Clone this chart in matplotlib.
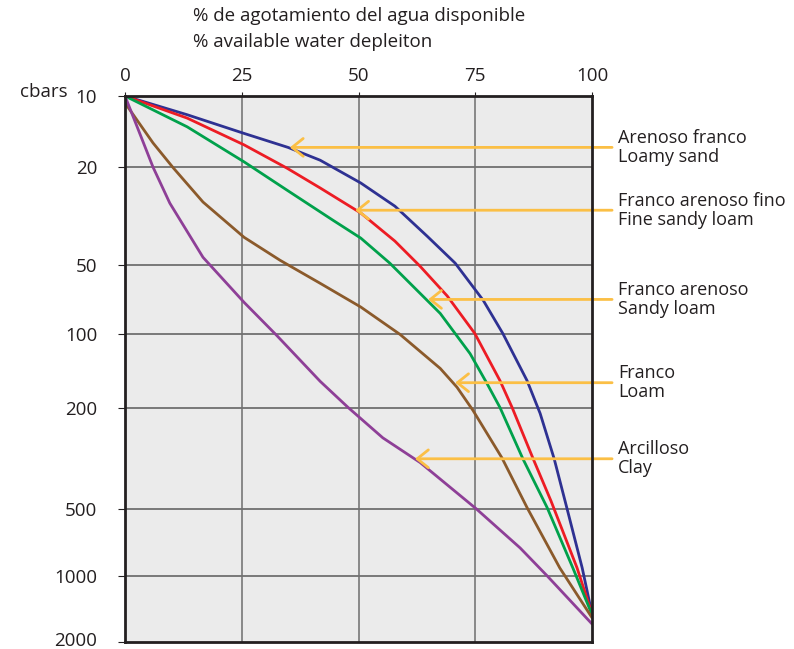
import matplotlib
matplotlib.use('Agg')
import matplotlib.pyplot as plt
import matplotlib.transforms as mtransforms
import numpy as np

plt.rcParams['font.family'] = ['Open Sans', 'DejaVu Sans']

# axis values
y_ticks = [10, 20, 50, 100, 200, 500, 1000, 2000]
x_ticks = [0, 25, 50, 75, 100]

# curves: % depletion vs cbars
loamy_sand_x = [0, 13.3, 25.5, 34.9, 41.8, 50.5, 57.8, 64.7, 70.7, 76.7, 80.9, 86.1, 88.9, 91.9, 94.6, 97.9, 100]
loamy_sand_y = [10, 12.0, 14.4, 16.5, 18.7, 23.2, 28.8, 38.1, 49, 71, 99, 155, 211, 318, 495, 921, 1490]

fine_sandy_loam_x = [0, 13.3, 25.5, 34.7, 41.8, 50.5, 57.8, 63.2, 69, 74.9, 80.3, 82.9, 87.4, 91.2, 96.8, 100]
fine_sandy_loam_y = [10, 12.4, 16.1, 20.2, 24.3, 30.7, 39.9, 50.5, 68, 99, 155, 200, 318, 465, 921, 1490]

sandy_loam_x = [0, 13.3, 25.5, 34.7, 44.5, 50.5, 56.7, 67.5, 73.9, 77.5, 80.3, 85.2, 90.4, 95.9, 100]
sandy_loam_y = [10, 13.5, 19.0, 24.8, 32.8, 38.8, 49, 81, 120, 159, 200, 318, 495, 921, 1500]

loam_x = [0, 6, 10.3, 16.7, 25.5, 33.2, 41.8, 50.5, 58.9, 67.5, 71.1, 74.5, 80.7, 86.1, 93.1, 100]
loam_y = [10.7, 15.8, 20.1, 27.7, 38.5, 47.7, 59.9, 76, 100, 138, 165, 205, 315, 495, 921, 1550]

clay_x = [0, 2.6, 6, 9.6, 16.7, 25.5, 32.5, 41.8, 47.8, 55.2, 63.2, 75.2, 84.6, 90.4, 100]
clay_y = [10, 13.5, 20, 28, 46.4, 72.5, 101, 156, 200, 263, 329, 500, 749, 1000, 1655]

labels_es = ['Arenoso franco', 'Franco arenoso fino', 'Franco arenoso', 'Franco', 'Arcilloso']
labels_en = ['Loamy sand', 'Fine sandy loam', 'Sandy loam', 'Loam', 'Clay']
arrow_x = [35.3, 49.3, 64.9, 70.7, 62.1]
arrow_y = [16.5, 29.9, 70.4, 158, 318]

curves = [
    (loamy_sand_x, loamy_sand_y, '#2e3192'),
    (fine_sandy_loam_x, fine_sandy_loam_y, '#ed1c24'),
    (sandy_loam_x, sandy_loam_y, '#00a14b'),
    (loam_x, loam_y, '#8b5a2b'),
    (clay_x, clay_y, '#8e3f97'),
]

# the cbar axis of the original is roughly logarithmic but not evenly spaced
log_t = np.log10(y_ticks)
offs = np.array([0, 71, 169, 238, 311, 412, 479, 545], dtype=float)
log_ext = np.concatenate([[0.0], log_t, [4.0]])
offs_ext = np.concatenate([[-239.0], offs, [545 + 0.699 * 220]])


def fwd(v):
    v = np.clip(np.asarray(v, dtype=float), 1.0, 1e4)
    return np.interp(np.log10(v), log_ext, offs_ext)


def inv(p):
    return 10 ** np.interp(np.asarray(p, dtype=float), offs_ext, log_ext)


fig = plt.figure(figsize=(7.94, 6.49), dpi=100)
ax = fig.add_axes([125 / 794, 1 - 642 / 649, 467 / 794, 546 / 649])
ax.set_facecolor('#ebebeb')
ax.set_yscale('function', functions=(fwd, inv))
ax.set_xlim(0, 100)
ax.set_ylim(2000, 10)

for v in x_ticks[1:-1]:
    ax.axvline(v, color='#808080', lw=1.3, zorder=1)
for v in y_ticks[1:-1]:
    ax.axhline(v, color='#707070', lw=1.3, zorder=1)

for xs, ys, c in curves:
    ax.plot(xs, ys, color=c, lw=2, zorder=3, solid_capstyle='round',
            solid_joinstyle='round')

orange = '#fbbf45'
for xa, ya, es, en in zip(arrow_x, arrow_y, labels_es, labels_en):
    ax.annotate('', xy=(xa, ya), xytext=(104.3, ya), annotation_clip=False,
                arrowprops=dict(arrowstyle='->,head_length=0.4,head_width=0.32',
                                color=orange, lw=2, mutation_scale=20,
                                shrinkA=0, shrinkB=0), zorder=4)
    ax.text(105.6, ya, es + '\n' + en, fontsize=13, color='#231f20',
            ha='left', va='center', linespacing=1.05, clip_on=False)

ax.xaxis.tick_top()
ax.set_xticks(x_ticks)
ax.set_yticks(y_ticks)
ax.set_yticklabels([str(t) for t in y_ticks])
ax.yaxis.set_minor_locator(matplotlib.ticker.NullLocator())
ax.tick_params(axis='x', length=3, pad=5, labelsize=13.5, colors='#231f20')
ax.tick_params(axis='y', length=5, pad=15, labelsize=13.5, colors='#231f20')
# nudge the last label up so it stays inside the picture
lab = ax.get_yticklabels()[-1]
lab.set_transform(lab.get_transform() + mtransforms.ScaledTranslation(0, 3 / 100, fig.dpi_scale_trans))
for s in ax.spines.values():
    s.set_linewidth(2)
    s.set_color('#231f20')
    s.set_zorder(5)

fig.text(20 / 794, 1 - 92 / 649, 'cbars', fontsize=13.5, va='center', color='#231f20')
fig.text(193 / 794, 1 - 16 / 649, '% de agotamiento del agua disponible',
         fontsize=13.5, va='center', color='#231f20')
fig.text(193 / 794, 1 - 42 / 649, '% available water depleiton',
         fontsize=13.5, va='center', color='#231f20')

fig.savefig('out.png', dpi=100)
